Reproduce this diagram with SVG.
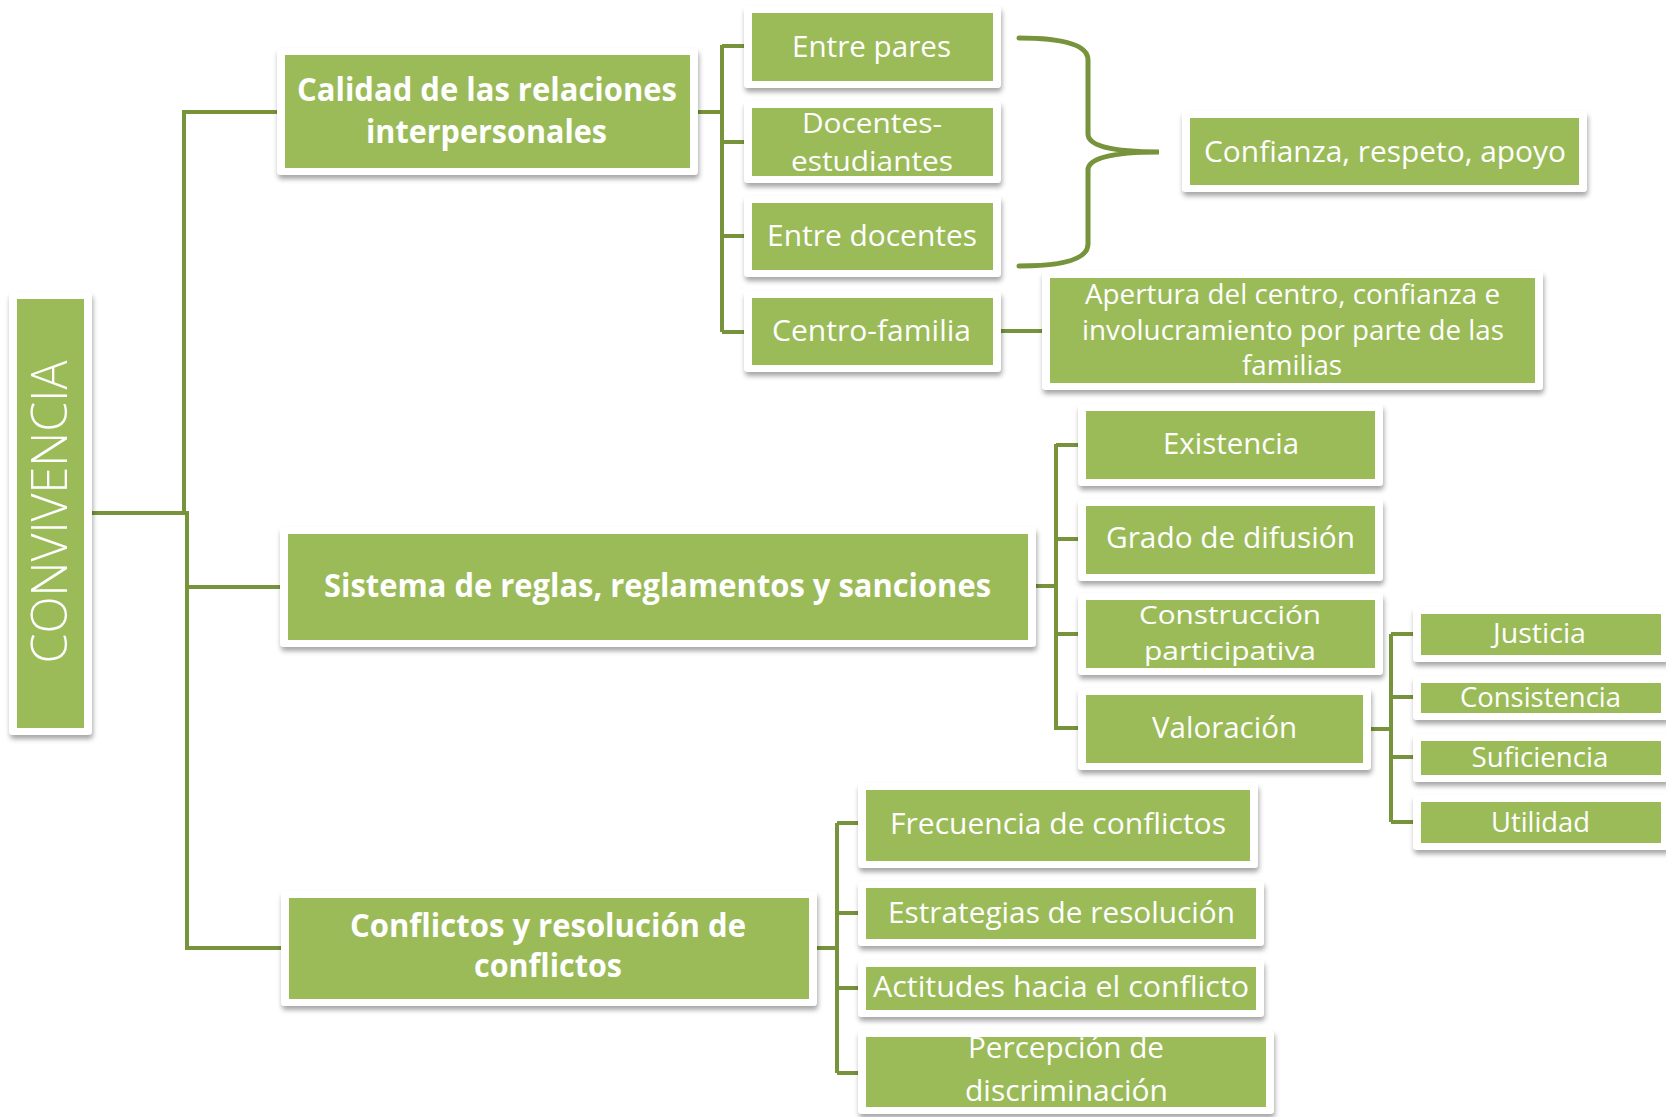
<svg xmlns="http://www.w3.org/2000/svg" width="1666" height="1117" viewBox="0 0 1666 1117">
<defs>
<filter id="sh" x="-10%" y="-20%" width="120%" height="150%">
<feDropShadow dx="1" dy="4" stdDeviation="2.5" flood-color="#000" flood-opacity="0.35"/>
</filter>
<style>
.frame{fill:#fff;filter:url(#sh)}
.box{fill:#9BBB59}
.t{fill:#fff;font-family:"Open Sans","Liberation Sans",sans-serif;font-size:30px;text-anchor:middle}
.s{font-size:27px}
.b{font-weight:bold;font-size:32px}
.c{fill:none;stroke:#77933C;stroke-width:4}
</style>
</defs>
<rect width="1666" height="1117" fill="#fff"/>
<g id="connectors" class="c">
<path d="M280,112 H184 V513"/>
<path d="M88,513 H187 V948 H284"/>
<path d="M187,587 H284"/>
<path d="M694,112 H722"/>
<path d="M722,45 V332"/>
<path d="M722,46 H748 M722,142 H748 M722,236 H748 M722,332 H748"/>
<path d="M996,331 H1046"/>
<path d="M1019,38 Q1088,38 1088,60 V134 Q1088,152 1159,152 Q1088,152 1088,170 V244 Q1088,266 1019,266" stroke-width="5" stroke-linecap="round"/>
<path d="M1032,586 H1056"/>
<path d="M1056,444 V730"/>
<path d="M1056,445 H1080 M1056,539 H1080 M1056,634 H1080 M1056,728 H1080"/>
<path d="M1367,729 H1391"/>
<path d="M1391,634 V822"/>
<path d="M1391,634 H1416 M1391,697 H1416 M1391,757 H1416 M1391,822 H1416"/>
<path d="M812,948 H837"/>
<path d="M837,823 V1073"/>
<path d="M837,823 H862 M837,913 H862 M837,988 H862 M837,1073 H862"/>
</g>
<g id="convivencia">
<rect class="frame" x="9" y="292" width="83" height="443" rx="4"/>
<rect class="box" x="17" y="299" width="67" height="429"/>
<text class="t" transform="translate(67,512) rotate(-90)" style="font-size:50px;font-weight:300" textLength="303" lengthAdjust="spacingAndGlyphs">CONVIVENCIA</text>
</g>
<g id="calidad">
<rect class="frame" x="277" y="48" width="421" height="127" rx="4"/>
<rect class="box" x="285" y="55" width="405" height="113"/>
<text class="t b" x="487" y="101" textLength="380" lengthAdjust="spacingAndGlyphs">Calidad de las relaciones</text>
<text class="t b" x="486.5" y="143" textLength="241" lengthAdjust="spacingAndGlyphs">interpersonales</text>
</g>
<g id="entre-pares">
<rect class="frame" x="744" y="6" width="257" height="82" rx="4"/>
<rect class="box" x="752" y="13" width="241" height="68"/>
<text class="t" x="871.5" y="57" textLength="159" lengthAdjust="spacingAndGlyphs">Entre pares</text>
</g>
<g id="docentes-estudiantes">
<rect class="frame" x="744" y="101" width="257" height="82" rx="4"/>
<rect class="box" x="752" y="108" width="241" height="68"/>
<text class="t" style="font-size:28px" x="872" y="133" textLength="140" lengthAdjust="spacingAndGlyphs">Docentes-</text>
<text class="t" style="font-size:28px" x="872" y="171" textLength="162" lengthAdjust="spacingAndGlyphs">estudiantes</text>
</g>
<g id="entre-docentes">
<rect class="frame" x="744" y="196" width="257" height="81" rx="4"/>
<rect class="box" x="752" y="203" width="241" height="67"/>
<text class="t" x="872" y="246" textLength="210" lengthAdjust="spacingAndGlyphs">Entre docentes</text>
</g>
<g id="centro-familia">
<rect class="frame" x="744" y="291" width="257" height="81" rx="4"/>
<rect class="box" x="752" y="298" width="241" height="67"/>
<text class="t" x="871.5" y="341" textLength="199" lengthAdjust="spacingAndGlyphs">Centro-familia</text>
</g>
<g id="confianza">
<rect class="frame" x="1182" y="111" width="405" height="81" rx="4"/>
<rect class="box" x="1190" y="118" width="389" height="67"/>
<text class="t" x="1385" y="162" textLength="362" lengthAdjust="spacingAndGlyphs">Confianza, respeto, apoyo</text>
</g>
<g id="apertura">
<rect class="frame" x="1042" y="271" width="501" height="119" rx="4"/>
<rect class="box" x="1050" y="278" width="485" height="105"/>
<text class="t s" x="1292.5" y="304" textLength="415" lengthAdjust="spacingAndGlyphs">Apertura del centro, confianza e</text>
<text class="t s" x="1293" y="340" textLength="422" lengthAdjust="spacingAndGlyphs">involucramiento por parte de las</text>
<text class="t s" x="1292" y="375" textLength="100" lengthAdjust="spacingAndGlyphs">familias</text>
</g>
<g id="sistema">
<rect class="frame" x="280" y="527" width="756" height="120" rx="4"/>
<rect class="box" x="288" y="534" width="740" height="106"/>
<text class="t b" x="657.5" y="597" textLength="667" lengthAdjust="spacingAndGlyphs">Sistema de reglas, reglamentos y sanciones</text>
</g>
<g id="existencia">
<rect class="frame" x="1078" y="404" width="305" height="82" rx="4"/>
<rect class="box" x="1086" y="411" width="289" height="68"/>
<text class="t" x="1231" y="454" textLength="136" lengthAdjust="spacingAndGlyphs">Existencia</text>
</g>
<g id="grado-difusion">
<rect class="frame" x="1078" y="499" width="305" height="82" rx="4"/>
<rect class="box" x="1086" y="506" width="289" height="68"/>
<text class="t" x="1230.5" y="548" textLength="249" lengthAdjust="spacingAndGlyphs">Grado de difusión</text>
</g>
<g id="construccion">
<rect class="frame" x="1078" y="593" width="305" height="82" rx="4"/>
<rect class="box" x="1086" y="600" width="289" height="68"/>
<text class="t" style="font-size:25px" x="1230" y="624" textLength="182" lengthAdjust="spacingAndGlyphs">Construcción</text>
<text class="t" style="font-size:25px" x="1230" y="660" textLength="172" lengthAdjust="spacingAndGlyphs">participativa</text>
</g>
<g id="valoracion">
<rect class="frame" x="1078" y="688" width="293" height="82" rx="4"/>
<rect class="box" x="1086" y="695" width="277" height="68"/>
<text class="t" x="1224.5" y="738" textLength="145" lengthAdjust="spacingAndGlyphs">Valoración</text>
</g>
<g id="justicia">
<rect class="frame" x="1413" y="607" width="256" height="55" rx="4"/>
<rect class="box" x="1421" y="614" width="240" height="41"/>
<text class="t s" x="1539.5" y="643" textLength="93" lengthAdjust="spacingAndGlyphs">Justicia</text>
</g>
<g id="consistencia">
<rect class="frame" x="1413" y="676" width="256" height="44" rx="4"/>
<rect class="box" x="1421" y="683" width="240" height="30"/>
<text class="t s" x="1540.5" y="707" textLength="161" lengthAdjust="spacingAndGlyphs">Consistencia</text>
</g>
<g id="suficiencia">
<rect class="frame" x="1413" y="734" width="256" height="48" rx="4"/>
<rect class="box" x="1421" y="741" width="240" height="34"/>
<text class="t s" x="1540" y="767" textLength="137" lengthAdjust="spacingAndGlyphs">Suficiencia</text>
</g>
<g id="utilidad">
<rect class="frame" x="1413" y="795" width="256" height="55" rx="4"/>
<rect class="box" x="1421" y="802" width="240" height="41"/>
<text class="t s" x="1540.5" y="832" textLength="99" lengthAdjust="spacingAndGlyphs">Utilidad</text>
</g>
<g id="conflictos">
<rect class="frame" x="281" y="891" width="536" height="115" rx="4"/>
<rect class="box" x="289" y="898" width="520" height="101"/>
<text class="t b" x="548" y="937" textLength="396" lengthAdjust="spacingAndGlyphs">Conflictos y resolución de</text>
<text class="t b" x="548" y="977" textLength="148" lengthAdjust="spacingAndGlyphs">conflictos</text>
</g>
<g id="frecuencia">
<rect class="frame" x="858" y="783" width="400" height="85" rx="4"/>
<rect class="box" x="866" y="790" width="384" height="71"/>
<text class="t" x="1058" y="834" textLength="336" lengthAdjust="spacingAndGlyphs">Frecuencia de conflictos</text>
</g>
<g id="estrategias">
<rect class="frame" x="858" y="881" width="406" height="65" rx="4"/>
<rect class="box" x="866" y="888" width="390" height="51"/>
<text class="t" x="1061.5" y="923" textLength="347" lengthAdjust="spacingAndGlyphs">Estrategias de resolución</text>
</g>
<g id="actitudes">
<rect class="frame" x="858" y="960" width="406" height="57" rx="4"/>
<rect class="box" x="866" y="967" width="390" height="43"/>
<text class="t" x="1061" y="997" textLength="376" lengthAdjust="spacingAndGlyphs">Actitudes hacia el conflicto</text>
</g>
<g id="percepcion">
<rect class="frame" x="858" y="1030" width="416" height="84" rx="4"/>
<rect class="box" x="866" y="1037" width="400" height="70"/>
<text class="t" x="1066" y="1058" textLength="196" lengthAdjust="spacingAndGlyphs">Percepción de</text>
<text class="t" x="1066.5" y="1101" textLength="203" lengthAdjust="spacingAndGlyphs">discriminación</text>
</g>
</svg>
